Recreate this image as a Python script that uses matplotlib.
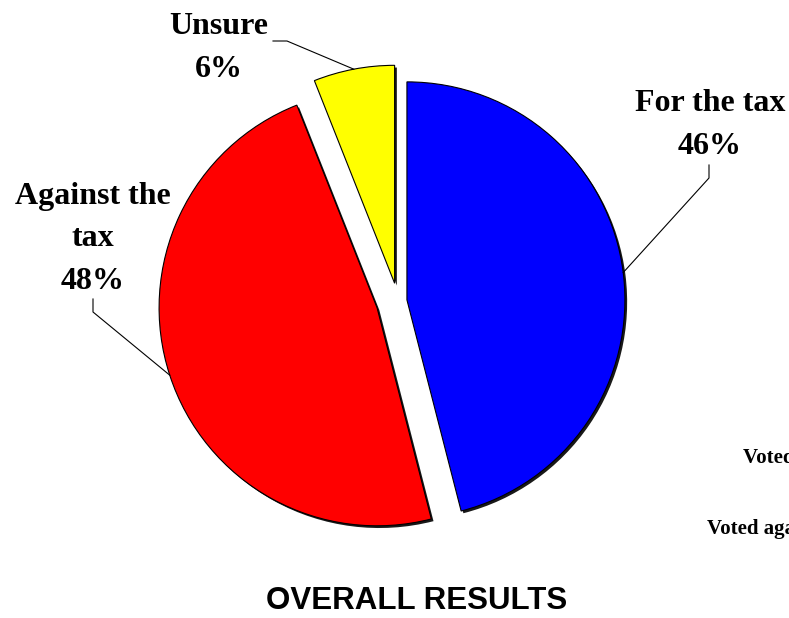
import numpy as np
import matplotlib
matplotlib.use("Agg")
import matplotlib.pyplot as plt
import matplotlib.patheffects as pe

# survey results
labels = ["For the tax", "Against the tax", "Unsure"]
label_text = ["For the tax", "Against the\ntax", "Unsure"]
values = [46, 48, 6]
colors = ["#0000FF", "#FF0000", "#FFFF00"]
side_notes = ["Voted for the tax", "Voted against the tax"]

W, H = 789, 618
fig = plt.figure(figsize=(W / 100, H / 100), dpi=100)
ax = fig.add_axes([0, 0, 1, 1])

shadow = [pe.SimplePatchShadow(offset=(1.6, -1.6), shadow_rgbFace="black", alpha=0.9),
          pe.Normal()]
wedges, _ = ax.pie(values, colors=colors, radius=218, center=(398, H - 301),
                   startangle=90, counterclock=False, explode=[9, 22, 18],
                   wedgeprops=dict(edgecolor="black", linewidth=0.8,
                                   path_effects=shadow))

ax.set_xlim(0, W)
ax.set_ylim(0, H)
ax.set_aspect("equal")
ax.axis("off")

# label block centre and leader elbow/end, in pixels from top-left
label_pos = [(710, 125), (93, 239), (219, 48)]
leader_pts = [[(709, 178), (709, 165)],
              [(93, 312), (93, 299)],
              [(287, 41), (273, 41)]]

for w, txt, v, (tx, ty), pts in zip(wedges, label_text, values, label_pos, leader_pts):
    mid = np.deg2rad((w.theta1 + w.theta2) / 2)
    cx, cy = w.center
    ax_pt = (cx + w.r * np.cos(mid), cy + w.r * np.sin(mid))
    xs = [ax_pt[0]] + [p[0] for p in pts]
    ys = [ax_pt[1]] + [H - p[1] for p in pts]
    ax.plot(xs, ys, color="black", lw=0.8)
    ax.text(tx, H - ty, f"{txt}\n{v}%", ha="center", va="center",
            family="Liberation Serif", fontweight="bold", fontsize=23,
            linespacing=1.62)

# notes running off the right edge
ax.text(743, H - 463, side_notes[0], ha="left", va="baseline",
        family="Liberation Serif", fontweight="bold", fontsize=15)
ax.text(707, H - 534, side_notes[1], ha="left", va="baseline",
        family="Liberation Serif", fontweight="bold", fontsize=15)

ax.text(417, H - 601, "OVERALL RESULTS", ha="center", va="center",
        family="Liberation Sans", fontweight="bold", fontsize=22.5)

fig.savefig("out.png", dpi=100)
